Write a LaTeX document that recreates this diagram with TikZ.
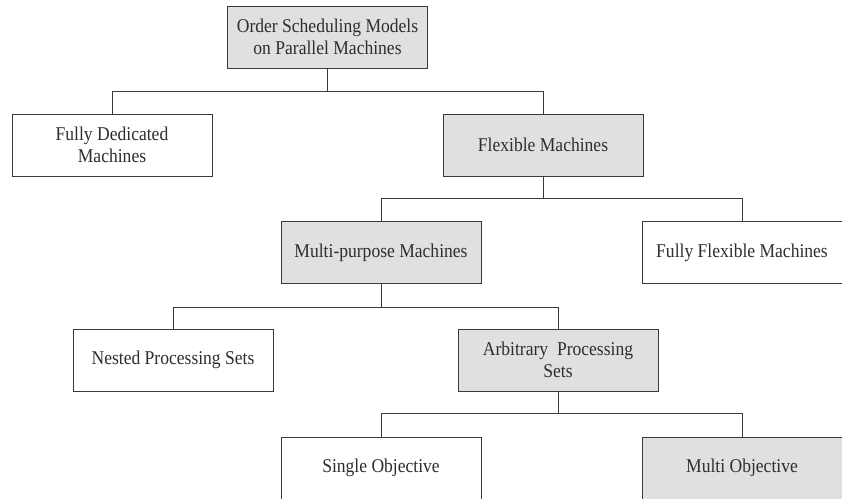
\documentclass[tikz,border=0pt]{standalone}
\usepackage{fontspec}
\setmainfont{Liberation Serif}[FakeStretch=0.9]
\definecolor{boxgray}{HTML}{E0E0E0}
\definecolor{linegray}{HTML}{3A3A3A}
\definecolor{textgray}{HTML}{2E2E2E}
\begin{document}
\begin{tikzpicture}[x=1pt,y=-1pt,
  box/.style={draw=linegray, line width=1pt, fill=white, minimum width=200pt, minimum height=62pt,
    inner sep=0pt, align=center, text=textgray, font=\fontsize{19.5}{21.5}\selectfont},
  grey/.style={box, fill=boxgray},
  link/.style={draw=linegray, line width=1pt}]
\useasboundingbox (0,0) rectangle (842,498);
\node[grey] (top) at (327.5,37) {Order Scheduling Models\\on Parallel Machines};
\node[box] (fd) at (112,145) {Fully Dedicated\\Machines};
\node[grey] (flex) at (543,145) {Flexible Machines};
\node[grey] (mp) at (381,252.5) {Multi-purpose Machines};
\node[box] (ff) at (742,252.5) {Fully Flexible Machines};
\node[box] (nest) at (173,360) {Nested Processing Sets};
\node[grey] (arb) at (558,360) {Arbitrary~ Processing\\Sets};
\node[box] (single) at (381,468) {Single Objective};
\node[grey] (multi) at (742,468) {Multi Objective};
\draw[link] (top.south) -- ++(0,23) -| (fd.north);
\draw[link] (top.south) -- ++(0,23) -| (flex.north);
\draw[link] (flex.south) -- ++(0,22) -| (mp.north);
\draw[link] (flex.south) -- ++(0,22) -| (ff.north);
\draw[link] (mp.south) -- ++(0,23) -| (nest.north);
\draw[link] (mp.south) -- ++(0,23) -| (arb.north);
\draw[link] (arb.south) -- ++(0,22) -| (single.north);
\draw[link] (arb.south) -- ++(0,22) -| (multi.north);
\end{tikzpicture}
\end{document}
